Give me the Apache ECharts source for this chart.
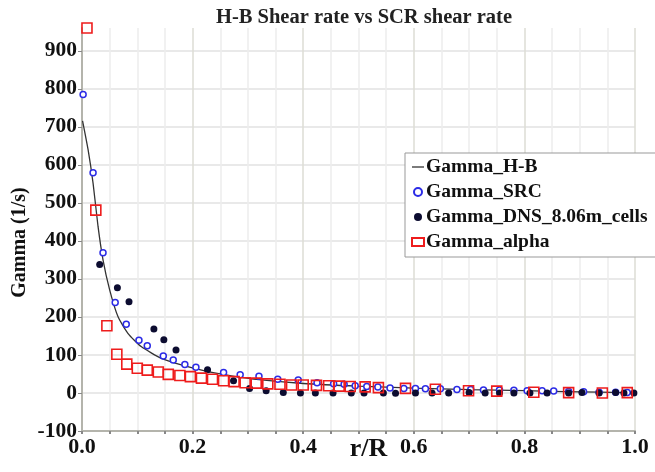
<!DOCTYPE html>
<html><head><meta charset="utf-8">
<script src="https://cdn.jsdelivr.net/npm/echarts@6/dist/echarts.min.js"></script>
<style>html,body{margin:0;padding:0;background:#fff}#c{width:655px;height:472px}</style>
</head><body><div id="c"></div>
<script>
const chartTitle = 'H-B Shear rate vs SCR shear rate';
const xName = 'r/R';
const yName = 'Gamma (1/s)';
const seriesNames = ['Gamma_H-B', 'Gamma_SRC', 'Gamma_DNS_8.06m_cells', 'Gamma_alpha'];
const xTickLabels = ['0.0', '0.2', '0.4', '0.6', '0.8', '1.0'];
const yTickLabels = ['-100', '0', '100', '200', '300', '400', '500', '600', '700', '800', '900'];

const hbR     = [0.001, 0.011, 0.020, 0.029, 0.038, 0.050, 0.065, 0.083, 0.107, 0.144, 0.186, 0.228, 0.270, 0.320, 0.400, 0.500, 0.600, 0.700, 0.800, 0.900, 0.980];
const hbGamma = [716,   640,   552,   438,   350,   271,   201,   157,   122,   91,    71,    56,    45,    35,    25,    18,    13,    9,     6,     3,     1];

const srcR     = [0.002, 0.020, 0.038, 0.060, 0.080, 0.103, 0.118, 0.147, 0.165, 0.186, 0.206, 0.256, 0.286, 0.320, 0.354, 0.391, 0.425, 0.455, 0.474, 0.494, 0.515, 0.535, 0.557, 0.582, 0.603, 0.621, 0.648, 0.678, 0.703, 0.726, 0.755, 0.781, 0.805, 0.832, 0.853, 0.880, 0.907, 0.935, 0.965, 0.986];
const srcGamma = [785,   579,   369,   238,   181,   139,   124,   97,    87,    75,    68,    54,    48,    44,    36,    34,    27,    24,    23,    19,    17,    16,    13,    12,    12,    11,    11,    9,     9,     8,     8,     7,     6,     6,     5,     4,     3,     2,     2,     1];

const dnsR     = [0.032, 0.064, 0.085, 0.130, 0.148, 0.170, 0.227, 0.274, 0.303, 0.333, 0.364, 0.395, 0.422, 0.454, 0.487, 0.510, 0.545, 0.567, 0.603, 0.633, 0.663, 0.700, 0.729, 0.755, 0.781, 0.810, 0.841, 0.880, 0.904, 0.935, 0.965, 0.980, 0.998];
const dnsGamma = [338,   277,   240,   168,   140,   113,   61,    32,    12,    6,     1,     0,     0,     0,     0,     0,     0,     -1,    0,     0,     0,     1,     0,     0,     0,     0,     0,     0,     1,     0,     1,     0,     0];

const alphaR     = [0.009, 0.025, 0.045, 0.063, 0.081, 0.100, 0.118, 0.138, 0.156, 0.177, 0.196, 0.216, 0.236, 0.256, 0.275, 0.295, 0.315, 0.336, 0.358, 0.379, 0.400, 0.424, 0.446, 0.465, 0.485, 0.512, 0.536, 0.585, 0.639, 0.699, 0.750, 0.817, 0.880, 0.941, 0.986];
const alphaGamma = [960,   481,   177,   102,   76,    65,    60,    55,    49,    46,    43,    39,    36,    32,    30,    27,    26,    24,    23,    21,    21,    20,    19,    18,    17,    16,    14,    12,    10,    6,     5,     2,     1,     0,     1];

const zip = (a, b) => a.map((v, i) => [v, b[i]]);
const FONT = "'Liberation Serif', 'DejaVu Serif', serif";

const chart = echarts.init(document.getElementById('c'), null, {renderer: 'canvas'});
chart.setOption({
  backgroundColor: '#fff',
  animation: false,
  title: {
    text: chartTitle, left: 359, top: 2, textAlign: 'center',
    textStyle: {fontFamily: FONT, fontWeight: 'bold', fontSize: 20.5, color: '#222'}
  },
  grid: {left: 82, right: 20, top: 28, bottom: 41, containLabel: false, outerBoundsMode: 'none'},
  legend: {
    orient: 'vertical', left: 405, top: 153,
    data: [
      {name: seriesNames[0], icon: 'path://M0,0 L13,0 L13,1.4 L0,1.4 Z'},
      {name: seriesNames[1]},
      {name: seriesNames[2]},
      {name: seriesNames[3]}
    ],
    backgroundColor: '#fff', borderColor: '#999', borderWidth: 1, borderRadius: 0,
    padding: [4, 12, 5, 6], itemGap: 5, itemWidth: 12, itemHeight: 8,
    textStyle: {fontFamily: FONT, fontWeight: 'bold', fontSize: 19.5, color: '#111', lineHeight: 18.5, padding: [0, 0, 0, -3]}
  },
  xAxis: {
    type: 'value', min: 0, max: 1, interval: 0.2,
    name: xName, nameLocation: 'middle', nameGap: 5, nameMoveOverlap: false,
    nameTextStyle: {fontFamily: FONT, fontWeight: 'bold', fontSize: 26, color: '#111', padding: [0, 0, 0, 20]},
    axisLine: {show: true, onZero: false, lineStyle: {color: '#b4b4ac', width: 2}},
    axisTick: {show: true, length: 3, lineStyle: {color: '#888', width: 2}},
    minorTick: {show: true, splitNumber: 4, length: 3, lineStyle: {color: '#888', width: 2}},
    axisLabel: {fontFamily: FONT, fontWeight: 'bold', fontSize: 22, color: '#111', margin: 5,
      formatter: v => xTickLabels[Math.round(v / 0.2)] },
    splitLine: {show: true, lineStyle: {color: '#dcdcd4', width: 1.5}},
    minorSplitLine: {show: true, lineStyle: {color: '#ededed', width: 1.5}}
  },
  yAxis: {
    type: 'value', min: -100, max: 960, interval: 100,
    name: yName, nameLocation: 'middle', nameGap: 52, nameMoveOverlap: false,
    nameTextStyle: {fontFamily: FONT, fontWeight: 'bold', fontSize: 20, color: '#111', padding: [0, 26, 0, 0]},
    axisLine: {show: true, onZero: false, lineStyle: {color: '#b4b4ac', width: 2}},
    axisTick: {show: true, length: 4, lineStyle: {color: '#888'}},
    axisLabel: {fontFamily: FONT, fontWeight: 'bold', fontSize: 21.5, color: '#111', margin: 5, showMaxLabel: false,
      formatter: v => yTickLabels[Math.round((v + 100) / 100)] || ''},
    splitLine: {show: true, showMaxLine: false, lineStyle: {color: '#e2e2e2', width: 1.5}}
  },
  series: [
    {
      name: seriesNames[0], type: 'line', data: zip(hbR, hbGamma),
      showSymbol: false, symbol: 'none', smooth: 0.2,
      lineStyle: {color: '#333', width: 1.3}, itemStyle: {color: '#333'}, z: 2
    },
    {
      name: seriesNames[1], type: 'scatter', data: zip(srcR, srcGamma),
      symbol: 'circle', symbolSize: 6,
      itemStyle: {color: '#fff', borderColor: '#2b2be6', borderWidth: 1.5, opacity: 1}, z: 3
    },
    {
      name: seriesNames[2], type: 'scatter', data: zip(dnsR, dnsGamma),
      symbol: 'circle', symbolSize: 7,
      itemStyle: {color: '#0c0c30', opacity: 1}, z: 4
    },
    {
      name: seriesNames[3], type: 'scatter', data: zip(alphaR, alphaGamma),
      symbol: 'rect', symbolSize: 10,
      itemStyle: {color: 'rgba(255,255,255,0)', borderColor: '#ee1c1c', borderWidth: 1.6, opacity: 1}, z: 5
    }
  ]
});
</script>
</body></html>
